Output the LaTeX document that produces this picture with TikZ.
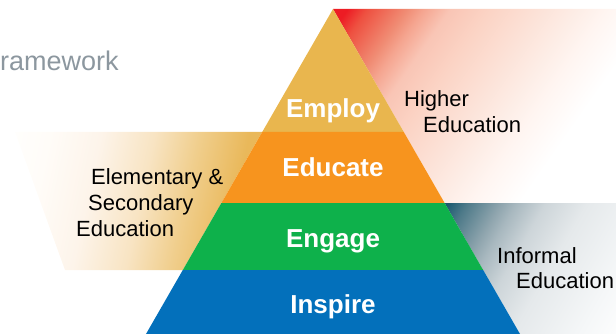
\documentclass[tikz,border=0pt]{standalone}
\usepackage{fontspec}
\setmainfont{Liberation Sans}

\definecolor{employ}{HTML}{E9B64E}
\definecolor{educate}{HTML}{F7941E}
\definecolor{engage}{HTML}{0EB14B}
\definecolor{inspire}{HTML}{0370BB}
\definecolor{frameworkgray}{HTML}{8C979F}
% higher education fade
\definecolor{hred}{HTML}{ED1C24}
\definecolor{hredb}{HTML}{EE5040}
\definecolor{hsalmon}{HTML}{F08C74}
\definecolor{hsalmonb}{HTML}{F5A590}
\definecolor{hpink}{HTML}{F9C5B5}
\definecolor{hpinkb}{HTML}{FBD3C4}
\definecolor{hrose}{HTML}{FDEDE6}
\definecolor{hroseb}{HTML}{FFF5F1}
% elementary fade
\definecolor{etan}{HTML}{E9B85A}
\definecolor{etanb}{HTML}{F0CE8C}
\definecolor{ecream}{HTML}{F8E4C3}
\definecolor{ecreamb}{HTML}{FDF4EA}
\definecolor{ewhite}{HTML}{FFFCF8}
\definecolor{ewhiteb}{HTML}{FFFEFC}
% informal fade
\definecolor{iteal}{HTML}{1B5A70}
\definecolor{itealb}{HTML}{4E7A89}
\definecolor{igray}{HTML}{8FA5AE}
\definecolor{igrayb}{HTML}{A8B8BF}
\definecolor{ilight}{HTML}{CDD5D9}
\definecolor{ilightb}{HTML}{E5E9EB}
\definecolor{iwhite}{HTML}{F5F7F8}

\pgfdeclarehorizontalshading{higherfade}{100bp}{color(0bp)=(hred); color(26.5bp)=(hred);
    color(28.5bp)=(hredb); color(32.6bp)=(hsalmon); color(34.3bp)=(hsalmonb);
    color(37bp)=(hpink); color(40.9bp)=(hpinkb); color(50bp)=(hrose);
    color(53bp)=(hroseb); color(58bp)=(white); color(100bp)=(white)}
\pgfdeclarehorizontalshading{elemfade}{100bp}{color(0bp)=(white); color(34bp)=(ewhiteb);
    color(39.5bp)=(ewhite); color(47.3bp)=(ecreamb); color(55.5bp)=(ecream);
    color(62.5bp)=(etanb); color(70bp)=(etan); color(100bp)=(etan)}
\pgfdeclarehorizontalshading{informalfade}{100bp}{color(0bp)=(iteal); color(25.5bp)=(iteal);
    color(28.9bp)=(itealb); color(34.8bp)=(igray); color(37.4bp)=(igrayb);
    color(42.5bp)=(ilight); color(49.7bp)=(ilightb); color(61.6bp)=(iwhite);
    color(70bp)=(white); color(100bp)=(white)}

\begin{document}
\begin{tikzpicture}[
    x=1pt, y=-1pt,
    level label/.style={text=white, inner sep=0pt, anchor=base,
        font=\bfseries\fontsize{26}{26}\selectfont},
    area label/.style={text=black, inner sep=0pt, anchor=base west,
        font=\fontsize{22}{22}\selectfont}
]
\useasboundingbox (0,0) rectangle (616,334);

% Faded areas behind the pyramid
\begin{scope}
    \clip (333,9) -- (616,9) -- (616,203) -- (444.6,203) -- cycle;
    \begin{scope}[transform canvas={rotate around={-35:(333,9)}}]
        \shade[shading=higherfade] (333,-291) rectangle (733,309);
    \end{scope}
\end{scope}
\begin{scope}
    \clip (15,132) -- (262.2,132) -- (182.8,270) -- (65,270) -- cycle;
    \begin{scope}[transform canvas={rotate around={-12.2:(262.2,132)}}]
        \shade[shading=elemfade] (-37.8,-168) rectangle (282.2,432);
    \end{scope}
\end{scope}
\begin{scope}
    \clip (444.6,203) -- (616,203) -- (616,334) -- (520,334) -- cycle;
    \begin{scope}[transform canvas={rotate around={-30:(444.6,203)}}]
        \shade[shading=informalfade] (444.6,-97) rectangle (694.6,503);
    \end{scope}
\end{scope}

% Pyramid levels
\foreach \ya/\yb/\lvl/\word/\base in {9/132/employ/Employ/118, 132/203/educate/Educate/177,
        203/270/engage/Engage/247, 270/334/inspire/Inspire/313} {
    \fill[\lvl] ({333-0.5754*(\ya-9)},\ya) -- ({333+0.5754*(\ya-9)},\ya)
        -- ({333+0.5754*(\yb-9)},\yb) -- ({333-0.5754*(\yb-9)},\yb) -- cycle;
    \node[level label] (\lvl) at (333,\base) {\word};
}

% Labels
\node[text=frameworkgray, inner sep=0pt, anchor=base west,
    font=\fontsize{27}{27}\selectfont] (framework) at (0,71) {ramework};
\node[area label] (higher) at (404,107) {Higher};
\node[area label] (higher edu) at (423,133) {Education};
\node[area label] (elem) at (91,184) {Elementary \&};
\node[area label] (second) at (88,210) {Secondary};
\node[area label] (elem edu) at (76,236) {Education};
\node[area label] (informal) at (497,263) {Informal};
\node[area label] (informal edu) at (516,288) {Education};

\end{tikzpicture}
\end{document}
